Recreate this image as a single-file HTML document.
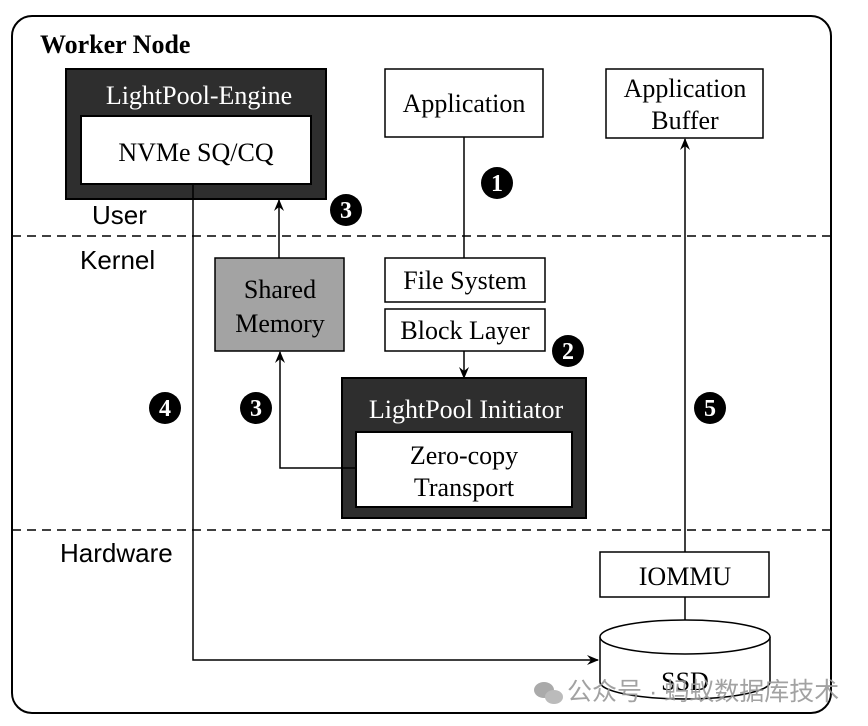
<!DOCTYPE html>
<html><head><meta charset="utf-8"><style>
html,body{margin:0;padding:0;background:#fff;}
svg{display:block;}
.s{font-family:"Liberation Serif",serif;}
.a{font-family:"Liberation Sans",sans-serif;}
</style></head><body>
<svg width="868" height="726" viewBox="0 0 868 726" xmlns="http://www.w3.org/2000/svg">
<defs>
<marker id="ar" markerWidth="12" markerHeight="10" refX="11" refY="5" orient="auto" markerUnits="userSpaceOnUse">
<path d="M0,0 L12,5 L0,10 L4,5 Z" fill="#000"/>
</marker>
</defs>
<rect x="12" y="16" width="819" height="697" rx="20" fill="#fff" stroke="#000" stroke-width="2"/>
<text x="40" y="53" class="s" font-size="26" font-weight="bold">Worker Node</text>
<line x1="12" y1="236" x2="831" y2="236" stroke="#000" stroke-width="1.5" stroke-dasharray="9,6"/>
<line x1="12" y1="530" x2="831" y2="530" stroke="#000" stroke-width="1.5" stroke-dasharray="9,6"/>
<text x="92" y="224" class="a" font-size="26">User</text>
<text x="80" y="269" class="a" font-size="26">Kernel</text>
<text x="60" y="562" class="a" font-size="26">Hardware</text>

<rect x="66" y="69" width="260" height="130" fill="#2e2e2e" stroke="#000" stroke-width="2"/>
<text x="199" y="104" class="s" font-size="26" fill="#fff" text-anchor="middle">LightPool-Engine</text>
<rect x="81" y="116" width="230" height="68" fill="#fff" stroke="#000" stroke-width="2"/>
<text x="196" y="161" class="s" font-size="26" text-anchor="middle">NVMe SQ/CQ</text>

<rect x="385" y="69" width="158" height="68" fill="#fff" stroke="#000" stroke-width="1.5"/>
<text x="464" y="112" class="s" font-size="26" text-anchor="middle">Application</text>
<rect x="606" y="69" width="157" height="69" fill="#fff" stroke="#000" stroke-width="1.5"/>
<text x="685" y="97" class="s" font-size="26" text-anchor="middle">Application</text>
<text x="685" y="129" class="s" font-size="26" text-anchor="middle">Buffer</text>

<line x1="464" y1="137" x2="464" y2="258" stroke="#000" stroke-width="1.5"/>
<rect x="385" y="258" width="160" height="44" fill="#fff" stroke="#000" stroke-width="1.5"/>
<text x="465" y="289" class="s" font-size="26" text-anchor="middle">File System</text>
<rect x="385" y="309" width="160" height="42" fill="#fff" stroke="#000" stroke-width="1.5"/>
<text x="465" y="339" class="s" font-size="26" text-anchor="middle">Block Layer</text>
<line x1="464" y1="351" x2="464" y2="378" stroke="#000" stroke-width="1.5" marker-end="url(#ar)"/>

<rect x="342" y="378" width="244" height="140" fill="#2e2e2e" stroke="#000" stroke-width="2"/>
<text x="466" y="418" class="s" font-size="26" fill="#fff" text-anchor="middle">LightPool Initiator</text>
<rect x="356" y="432" width="216" height="75" fill="#fff" stroke="#000" stroke-width="2"/>
<text x="464" y="464" class="s" font-size="26" text-anchor="middle">Zero-copy</text>
<text x="464" y="496" class="s" font-size="26" text-anchor="middle">Transport</text>

<rect x="215" y="258" width="129" height="93" fill="#a3a3a3" stroke="#000" stroke-width="1.5"/>
<text x="280" y="298" class="s" font-size="26" text-anchor="middle">Shared</text>
<text x="280" y="332" class="s" font-size="26" text-anchor="middle">Memory</text>
<line x1="279" y1="258" x2="279" y2="200" stroke="#000" stroke-width="1.5" marker-end="url(#ar)"/>
<polyline points="356,468 280,468 280,352" fill="none" stroke="#000" stroke-width="1.5" marker-end="url(#ar)"/>

<polyline points="193,184 193,660 598,660" fill="none" stroke="#000" stroke-width="1.5" marker-end="url(#ar)"/>

<line x1="685" y1="552" x2="685" y2="139" stroke="#000" stroke-width="1.5" marker-end="url(#ar)"/>
<rect x="600" y="552" width="169" height="45" fill="#fff" stroke="#000" stroke-width="1.5"/>
<text x="685" y="585" class="s" font-size="26" text-anchor="middle">IOMMU</text>
<line x1="685" y1="597" x2="685" y2="620" stroke="#000" stroke-width="1.5"/>
<path d="M600,637 L600,682 A85,17 0 0 0 770,682 L770,637" fill="#fff" stroke="#000" stroke-width="1.5"/>
<ellipse cx="685" cy="637" rx="85" ry="17" fill="#fff" stroke="#000" stroke-width="1.5"/>
<text x="685" y="690" class="s" font-size="26" text-anchor="middle">SSD</text>

<g class="s" font-size="24" font-weight="bold" fill="#fff" text-anchor="middle">
<circle cx="497" cy="183" r="16" fill="#000"/><text x="497" y="191">1</text>
<circle cx="346" cy="210" r="16" fill="#000"/><text x="346" y="218">3</text>
<circle cx="568" cy="351" r="16" fill="#000"/><text x="568" y="359">2</text>
<circle cx="165" cy="408" r="16" fill="#000"/><text x="165" y="416">4</text>
<circle cx="256" cy="408" r="16" fill="#000"/><text x="256" y="416">3</text>
<circle cx="710" cy="408" r="16" fill="#000"/><text x="710" y="416">5</text>
</g>

<g fill="#aaa">
<ellipse cx="544" cy="690" rx="10" ry="8"/>
<ellipse cx="554" cy="697" rx="9" ry="7" fill="#bbb"/>
</g>
<text x="567" y="700" font-family="'Liberation Sans','Noto Sans CJK SC',sans-serif" font-size="25" fill="#999" opacity="0.9">公众号 · 蚂蚁数据库技术</text>
</svg>
</body></html>
